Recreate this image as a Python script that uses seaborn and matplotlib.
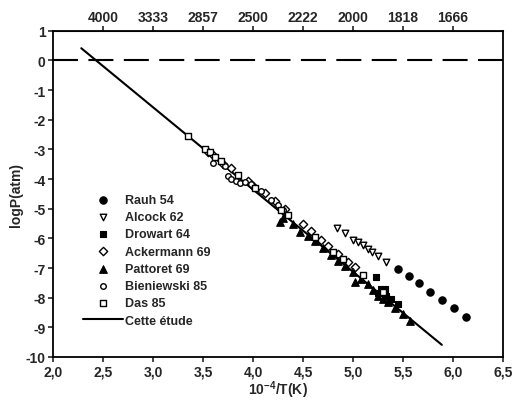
import numpy as np
import pandas as pd
import matplotlib
matplotlib.use("Agg")
import matplotlib.pyplot as plt
import seaborn as sns

# --- data (x = 10^4/T, y = logP(atm)) ---
rauh_x = [5.45, 5.56, 5.66, 5.77, 5.89, 6.01, 6.13]
rauh_y = [-7.03, -7.26, -7.52, -7.80, -8.07, -8.35, -8.64]

alcock_x = [4.84, 4.92, 5.00, 5.05, 5.10, 5.15, 5.19, 5.25, 5.33]
alcock_y = [-5.66, -5.82, -6.04, -6.13, -6.24, -6.36, -6.45, -6.58, -6.81]

drowart_x = [5.23, 5.25, 5.28, 5.32, 5.33, 5.38, 5.45]
drowart_y = [-7.32, -7.85, -7.70, -7.72, -7.95, -8.05, -8.22]

ackermann_x = [3.55, 3.60, 3.70, 3.78, 3.95, 4.00, 4.12, 4.22, 4.32, 4.50,
               4.58, 4.68, 4.75, 4.85, 4.95, 5.02]
ackermann_y = [-3.08, -3.18, -3.50, -3.62, -4.05, -4.22, -4.48, -4.75, -5.02, -5.50,
               -5.75, -6.05, -6.25, -6.52, -6.80, -6.98]

pattoret_x = [4.27, 4.30, 4.40, 4.47, 4.55, 4.62, 4.70, 4.78, 4.85, 4.92, 5.00,
              5.02, 5.08, 5.15, 5.20, 5.25, 5.30, 5.35, 5.42, 5.50, 5.57]
pattoret_y = [-5.45, -5.30, -5.52, -5.78, -5.92, -6.10, -6.32, -6.55, -6.75, -6.92, -7.15,
              -7.48, -7.38, -7.55, -7.75, -7.95, -8.05, -8.15, -8.35, -8.55, -8.78]

bieniewski_x = [3.60, 3.72, 3.75, 3.78, 3.83, 3.87, 3.92, 3.98, 4.02, 4.08, 4.18, 4.25, 4.30]
bieniewski_y = [-3.45, -3.55, -3.89, -4.00, -4.08, -4.14, -4.10, -4.18, -4.30, -4.42, -4.70, -4.88, -5.05]

das_x = [3.35, 3.52, 3.57, 3.62, 3.68, 3.85, 4.02, 4.28, 4.35, 4.62, 4.80, 4.90, 5.10, 5.30]
das_y = [-2.55, -3.00, -3.10, -3.25, -3.38, -3.88, -4.30, -5.05, -5.20, -5.95, -6.45, -6.70, -7.25, -7.80]

fit_x = [2.28, 5.89]
fit_y = [0.41, -9.59]

x_ticks = [2.0, 2.5, 3.0, 3.5, 4.0, 4.5, 5.0, 5.5, 6.0, 6.5]
x_ticklabels = ["2,0", "2,5", "3,0", "3,5", "4,0", "4,5", "5,0", "5,5", "6,0", "6,5"]
top_ticks = [2.5, 3.0, 3.5, 4.0, 4.5, 5.0, 5.5, 6.0]
top_ticklabels = ["4000", "3333", "2857", "2500", "2222", "2000", "1818", "1666"]
y_ticks = list(range(1, -11, -1))

sns.set_style("ticks")
plt.rcParams["font.family"] = ["Liberation Sans", "DejaVu Sans"]
plt.rcParams["mathtext.fontset"] = "custom"
plt.rcParams["mathtext.rm"] = "Liberation Sans"
plt.rcParams["mathtext.bf"] = "Liberation Sans:bold"

fig = plt.figure(figsize=(5.13, 4.02), dpi=100)
ax = fig.add_axes([0.1039, 0.1095, 0.8761, 0.8116])

sns.lineplot(x=fit_x, y=fit_y, ax=ax, color="black", lw=1.5, label="Cette étude")
ax.axhline(0, color="black", lw=1.5, ls=(0, (12, 5)))

filled = dict(ax=ax, color="black", edgecolor="black", linewidth=0.8, zorder=3)
hollow = dict(ax=ax, facecolor="white", edgecolor="black", linewidth=1.0, zorder=3)
sns.scatterplot(x=rauh_x, y=rauh_y, marker="o", s=28, label="Rauh 54", **filled)
sns.scatterplot(x=alcock_x, y=alcock_y, marker="v", s=22, label="Alcock 62", **hollow)
sns.scatterplot(x=drowart_x, y=drowart_y, marker="s", s=22, label="Drowart 64", **filled)
sns.scatterplot(x=ackermann_x, y=ackermann_y, marker="D", s=18, label="Ackermann 69", **hollow)
sns.scatterplot(x=pattoret_x, y=pattoret_y, marker="^", s=30, label="Pattoret 69", **filled)
sns.scatterplot(x=bieniewski_x, y=bieniewski_y, marker="o", s=16, label="Bieniewski 85", **hollow)
sns.scatterplot(x=das_x, y=das_y, marker="s", s=22, label="Das 85", **hollow)

ax.set_xlim(2.0, 6.5)
ax.set_ylim(-10, 1)
ax.set_xticks(x_ticks)
ax.set_xticklabels(x_ticklabels)
ax.set_yticks(y_ticks)
ax.set_yticklabels([str(v) for v in y_ticks])
ax.tick_params(axis="both", direction="out", length=3.5, width=1.2,
               labelsize=10, pad=2)
ax.tick_params(axis="y", right=False)
for lab in ax.get_xticklabels() + ax.get_yticklabels():
    lab.set_fontweight("bold")
for sp in ax.spines.values():
    sp.set_visible(True)
    sp.set_linewidth(1.3)
    sp.set_color("black")

top = ax.secondary_xaxis("top")
top.set_xticks(top_ticks)
top.set_xticklabels(top_ticklabels)
top.tick_params(direction="out", length=3.5, width=1.2, labelsize=10, pad=1)
for lab in top.get_xticklabels():
    lab.set_fontweight("bold")

ax.set_xlabel("10$^{\\mathbf{-4}}$/T(K)", fontsize=10, fontweight="bold", labelpad=0)
ax.set_ylabel("logP(atm)", fontsize=10, fontweight="bold", labelpad=2)

handles, labels = ax.get_legend_handles_labels()
order = labels[1:] + labels[:1]
hmap = dict(zip(labels, handles))
ax.legend([hmap[l] for l in order], order, loc="upper left",
          bbox_to_anchor=(0.066, 0.50), frameon=False,
          prop={"weight": "bold", "size": 9}, handlelength=3.2,
          handletextpad=0.2, labelspacing=0.42, borderpad=0, borderaxespad=0)

fig.savefig("out.png", dpi=100)
